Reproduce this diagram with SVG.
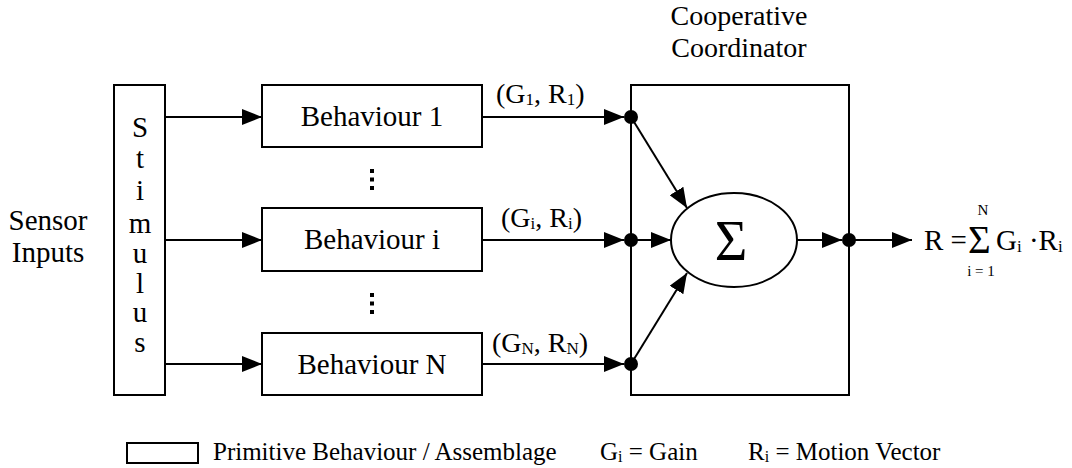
<svg xmlns="http://www.w3.org/2000/svg" width="1072" height="468" viewBox="0 0 1072 468">
  <style>
    text { font-family: "Liberation Serif", "Times New Roman", serif; fill: #000; }
    .box { fill: #fff; stroke: #000; stroke-width: 2; }
    .wire { fill: none; stroke: #000; stroke-width: 2; }
    .lbl { font-size: 29px; text-anchor: middle; }
    .pair { font-size: 28px; }
    .sub { font-size: 17px; }
    .leg { font-size: 25px; }
    .leg .sub { font-size: 16px; }
  </style>
  <defs>
    <marker id="arrow" markerUnits="userSpaceOnUse" markerWidth="21" markerHeight="16" refX="20" refY="8" orient="auto">
      <path d="M0,0 L20,8 L0,16 z" fill="#000"/>
    </marker>
  </defs>
  <rect width="1072" height="468" fill="#fff"/>

  <!-- sensor inputs label -->
  <g id="sensor-inputs">
    <text class="lbl" x="48" y="230">Sensor</text>
    <text class="lbl" x="48" y="262">Inputs</text>
  </g>

  <!-- stimulus column -->
  <g id="stimulus">
    <rect class="box" x="114" y="85" width="51" height="310"/>
    <text class="lbl" x="140" y="137">S</text>
    <text class="lbl" x="140" y="168">t</text>
    <text class="lbl" x="140" y="200">i</text>
    <text class="lbl" x="140" y="233">m</text>
    <text class="lbl" x="140" y="263">u</text>
    <text class="lbl" x="140" y="293">l</text>
    <text class="lbl" x="140" y="322">u</text>
    <text class="lbl" x="140" y="352">s</text>
  </g>

  <!-- behaviours -->
  <g id="behaviour-1">
    <rect class="box" x="262" y="85" width="220" height="62"/>
    <text class="lbl" x="372" y="126">Behaviour 1</text>
  </g>
  <g id="behaviour-i">
    <rect class="box" x="262" y="208" width="220" height="63"/>
    <text class="lbl" x="372" y="249">Behaviour i</text>
  </g>
  <g id="behaviour-n">
    <rect class="box" x="262" y="333" width="220" height="62"/>
    <text class="lbl" x="372" y="374">Behaviour N</text>
  </g>

  <!-- vertical ellipses between behaviours -->
  <g id="ellipsis" fill="#000">
    <rect x="370" y="169" width="4" height="4"/>
    <rect x="370" y="177.5" width="4" height="4"/>
    <rect x="370" y="186" width="4" height="4"/>
    <rect x="370" y="293" width="4" height="4"/>
    <rect x="370" y="301.5" width="4" height="4"/>
    <rect x="370" y="310" width="4" height="4"/>
  </g>

  <!-- cooperative coordinator -->
  <g id="coordinator">
    <text class="lbl" x="739" y="25" style="font-size:28px">Cooperative</text>
    <text class="lbl" x="739" y="57" style="font-size:28px">Coordinator</text>
    <rect class="box" x="631" y="85" width="218" height="310"/>
  </g>

  <g id="summation">
    <ellipse class="box" cx="734" cy="240" rx="63" ry="47"/>
    <text x="731" y="260" text-anchor="middle" style="font-size:56px">Σ</text>
  </g>

  <!-- connectors -->
  <g id="connectors" class="wire">
    <line x1="165" y1="117" x2="262" y2="117" marker-end="url(#arrow)"/>
    <line x1="165" y1="240" x2="262" y2="240" marker-end="url(#arrow)"/>
    <line x1="165" y1="364" x2="262" y2="364" marker-end="url(#arrow)"/>

    <line x1="482" y1="117" x2="624" y2="117" marker-end="url(#arrow)"/>
    <line x1="482" y1="240" x2="624" y2="240" marker-end="url(#arrow)"/>
    <line x1="482" y1="364" x2="624" y2="364" marker-end="url(#arrow)"/>

    <line x1="631" y1="117" x2="687" y2="208" marker-end="url(#arrow)"/>
    <line x1="631" y1="240" x2="671" y2="240" marker-end="url(#arrow)"/>
    <line x1="631" y1="364" x2="687" y2="273" marker-end="url(#arrow)"/>

    <line x1="797" y1="240" x2="842" y2="240" marker-end="url(#arrow)"/>
    <line x1="849" y1="240" x2="912" y2="240" marker-end="url(#arrow)"/>
  </g>

  <!-- junction dots -->
  <g id="junctions" fill="#000">
    <circle cx="631" cy="117" r="7"/>
    <circle cx="631" cy="240" r="7"/>
    <circle cx="631" cy="364" r="7"/>
    <circle cx="849" cy="240" r="7"/>
  </g>

  <!-- output labels -->
  <g id="pair-labels" class="pair">
    <text x="496" y="103">(G<tspan class="sub" dy="2">1</tspan><tspan dy="-2">, R</tspan><tspan class="sub" dy="2">1</tspan><tspan dy="-2">)</tspan></text>
    <text x="501" y="227">(G<tspan class="sub" dy="2">i</tspan><tspan dy="-2">, R</tspan><tspan class="sub" dy="2">i</tspan><tspan dy="-2">)</tspan></text>
    <text x="492" y="352">(G<tspan class="sub" dy="2">N</tspan><tspan dy="-2">, R</tspan><tspan class="sub" dy="2">N</tspan><tspan dy="-2">)</tspan></text>
  </g>

  <!-- resultant formula -->
  <g id="formula">
    <text x="924" y="250" style="font-size:29px">R =</text>
    <text x="968" y="253" style="font-size:39px">Σ</text>
    <text x="983" y="215" text-anchor="middle" style="font-size:15px">N</text>
    <text x="981" y="276" text-anchor="middle" style="font-size:15px">i = 1</text>
    <text x="996" y="250" style="font-size:29px">G<tspan class="sub" dy="2">i</tspan><tspan dy="-2"> ·R</tspan><tspan class="sub" dy="2">i</tspan></text>
  </g>

  <!-- legend -->
  <g id="legend" class="leg">
    <rect class="box" x="127" y="443" width="71" height="20"/>
    <text x="213" y="460">Primitive Behaviour / Assemblage</text>
    <text x="600" y="460">G<tspan class="sub" dy="2">i</tspan><tspan dy="-2"> = Gain</tspan></text>
    <text x="748" y="460">R<tspan class="sub" dy="2">i</tspan><tspan dy="-2"> = Motion Vector</tspan></text>
  </g>
</svg>
